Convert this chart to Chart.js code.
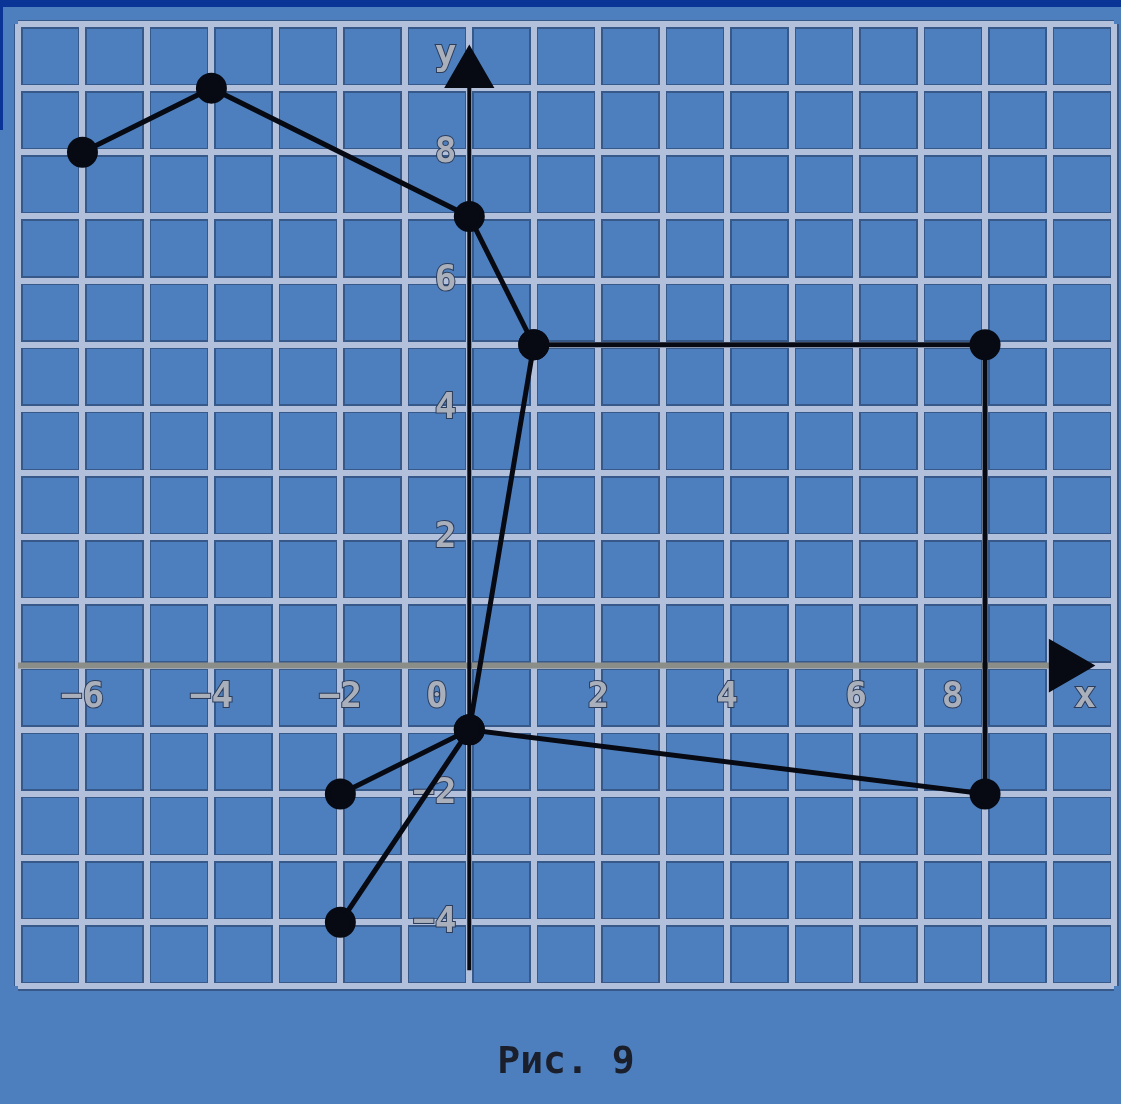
<!DOCTYPE html>
<html lang="ru">
<head>
  <meta charset="UTF-8" />
  <title>Рис. 9</title>
  <script src="https://cdn.jsdelivr.net/npm/chart.js"></script>
  <style>
    html, body { margin: 0; padding: 0; background: #4d7fbe; }
    #wrap { position: relative; width: 1121px; height: 1104px; }
    #wrap canvas { position: absolute; left: 0; top: 0; }
    #topbar { position: absolute; left: 0; top: 0; width: 1121px; height: 7px; background: #0b3497; }
    #sidebar { position: absolute; left: 0; top: 0; width: 3px; height: 130px; background: #0b3497; }
  </style>
</head>
<body>
  <div id="wrap">
    <canvas id="fig" width="1121" height="1104"></canvas>
    <div id="topbar"></div>
    <div id="sidebar"></div>
  </div>
  <script>
    // broken line: main path and the branch from (1;5) through (0;-1)
    const pathX = [-6, -4, 0, 1, 8, 8, 0, -2];
    const pathY = [8, 9, 7, 5, 5, -2, -1, -2];
    const branchX = [1, 0, -2];
    const branchY = [5, -1, -4];

    // coordinate plane
    const xRange = [-7, 10];
    const yRange = [-5, 10];
    const xAxisEnds = [-7, 9.23];
    const yAxisEnds = [-4.75, 9.23];

    // tick labels
    const xTicks = [-6, -4, -2, 0, 2, 4, 6, 8, 9.55];
    const xTickLabels = ['−6', '−4', '−2', '0', '2', '4', '6', '8', 'x'];
    const yTicks = [-4, -2, 2, 4, 6, 8, 9.5];
    const yTickLabels = ['−4', '−2', '2', '4', '6', '8', 'y'];

    const caption = 'Рис. 9';

    const toPoints = (xs, ys) => xs.map((x, i) => ({ x: x, y: ys[i] }));

    const labelFont = { family: 'DejaVu Sans Mono', size: 36, weight: 'bold' };
    const ink = '#070a12';

    function gridScale(axis, range, color, width, z) {
      return {
        type: 'linear', axis: axis, min: range[0], max: range[1],
        position: axis === 'x' ? 'bottom' : 'left',
        ticks: { display: false, stepSize: 1 },
        grid: { color: color, lineWidth: width, drawTicks: false, z: z },
        border: { display: false }
      };
    }

    function labelScale(axis, range, values, labels, pos) {
      return {
        type: 'linear', axis: axis, min: range[0], max: range[1],
        position: pos,
        afterBuildTicks: s => { s.ticks = values.map(v => ({ value: v })); },
        // labels lie inside the plot, so they must not shrink it
        afterFit: s => { s.paddingLeft = s.paddingRight = s.paddingTop = s.paddingBottom = 0; },
        ticks: {
          autoSkip: false, maxRotation: 0, padding: 10,
          font: labelFont, color: '#aab0bb',
          textStrokeColor: '#2c3d5c', textStrokeWidth: 2,
          // labels sitting on an axis line are pushed to its left
          callback: (v, i) => labels[i] + ((axis === 'x' && (v === 0 || v === 8)) ? '\u2007\u2007\u2007' : '')
        },
        grid: { display: false, drawTicks: false },
        border: { display: false }
      };
    }

    new Chart(document.getElementById('fig'), {
      type: 'scatter',
      data: {
        datasets: [
          {
            data: toPoints(pathX, pathY),
            showLine: true, borderColor: ink, borderWidth: 5,
            pointRadius: 13, pointBackgroundColor: ink, pointBorderColor: ink,
            order: 0
          },
          {
            data: toPoints(branchX, branchY),
            showLine: true, borderColor: ink, borderWidth: 5,
            pointRadius: 13, pointBackgroundColor: ink, pointBorderColor: ink,
            order: 1
          },
          {
            data: toPoints([0, 0], yAxisEnds),
            showLine: true, borderColor: ink, borderWidth: 4,
            pointStyle: 'triangle', pointRadius: [0, 25], pointRotation: 0,
            pointBackgroundColor: ink, pointBorderColor: ink,
            order: 2
          },
          {
            data: toPoints(xAxisEnds, [0, 0]),
            showLine: true, borderColor: '#8b8d88', borderWidth: 6,
            pointStyle: 'triangle', pointRadius: [0, 25], pointRotation: 90,
            pointBackgroundColor: ink, pointBorderColor: ink,
            order: 3
          }
        ]
      },
      options: {
        responsive: false,
        animation: false,
        layout: { autoPadding: false, padding: { top: 24, left: 18, right: 7, bottom: 0 } },
        scales: {
          x: gridScale('x', xRange, '#37598a', 9, -3),
          y: gridScale('y', yRange, '#37598a', 9, -3),
          x2: gridScale('x', xRange, '#b3c0dc', 6, -2),
          y2: gridScale('y', yRange, '#b3c0dc', 6, -2),
          xl: labelScale('x', xRange, xTicks, xTickLabels, { y: 0 }),
          yl: labelScale('y', yRange, yTicks, yTickLabels, { x: -0.2 })
        },
        plugins: {
          legend: { display: false },
          tooltip: { enabled: false },
          title: {
            display: true, position: 'bottom', text: caption,
            color: '#1b1f2c',
            font: { family: 'DejaVu Sans Mono', size: 38, weight: 'bold', lineHeight: 1.2 },
            padding: { top: 54, bottom: 18 }
          }
        }
      }
    });
  </script>
</body>
</html>
